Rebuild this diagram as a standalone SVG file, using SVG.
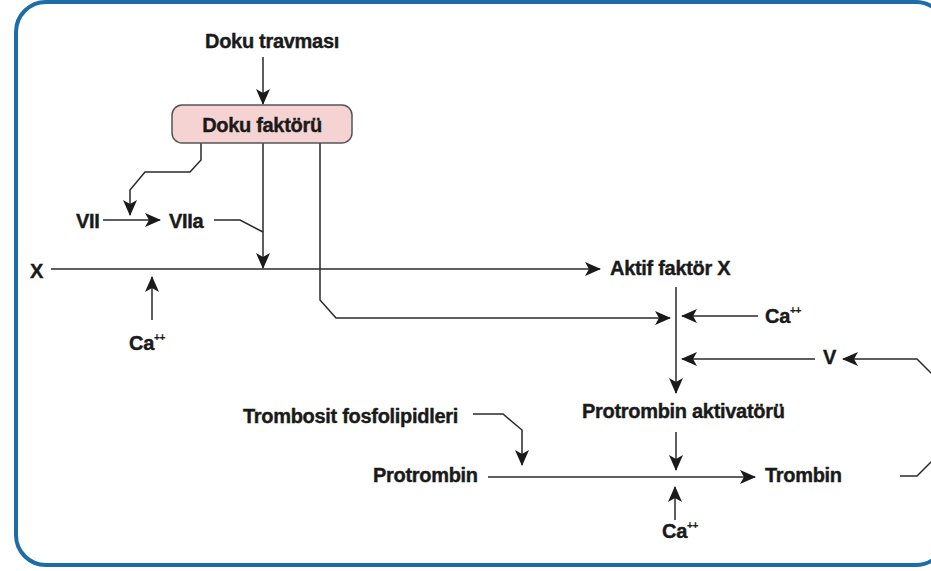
<svg xmlns="http://www.w3.org/2000/svg" width="931" height="571" viewBox="0 0 931 571">
<style>
.t{font-family:"Liberation Sans",Arial,sans-serif;font-weight:bold;font-size:20px;fill:#1a1a1a;stroke:#1a1a1a;stroke-width:0.4;letter-spacing:-0.3px}
.sup{font-size:10px;stroke-width:0.2}
.c{fill:none;stroke:#2a2a2a;stroke-width:1.5}
.a{marker-end:url(#ah)}
</style>
<defs>
<marker id="ah" viewBox="0 0 16 14" refX="15" refY="7" markerWidth="16" markerHeight="14" markerUnits="userSpaceOnUse" orient="auto">
<path d="M0,0 L16,7 L0,14 L4,7 z" fill="#1a1a1a"/>
</marker>
</defs>
<rect width="931" height="571" fill="#ffffff"/>
<rect id="frame" x="16" y="2" width="930" height="563" rx="30" fill="none" stroke="#1c6ca8" stroke-width="4"/>
<g id="connectors">
<path class="c a" d="M263,57 V104"/>
<path class="c a" d="M201,143 V160 L190,172 H145 L130,190 V215"/>
<path class="c a" d="M103,220 H160"/>
<path class="c a" d="M263,143 V268"/>
<path class="c" d="M214,220 H240 L263,232"/>
<path class="c a" d="M51,269 H600"/>
<path class="c a" d="M320,143 V300 L336,318 H670"/>
<path class="c a" d="M676,287 V393"/>
<path class="c a" d="M758,316 H682"/>
<path class="c a" d="M815,359 H682"/>
<path class="c a" d="M900,476 H917 L936,457 V378 L917,359 H843"/>
<path class="c a" d="M676,432 V470"/>
<path class="c a" d="M488,477 H755"/>
<path class="c a" d="M473,414 H503 L522,430 V465"/>
<path class="c a" d="M675,520 V487"/>
<path class="c a" d="M152,320 V277"/>
</g>
<g id="doku-travmasi"><text class="t" x="272" y="48" text-anchor="middle" font-size="21">Doku travması</text></g>
<g id="doku-faktoru">
<rect x="172" y="105" width="180" height="38" rx="10" fill="#f6d3d3" stroke="#555" stroke-width="1.5"/>
<text class="t" x="262" y="132" text-anchor="middle">Doku faktörü</text>
</g>
<g id="vii"><text class="t" x="76" y="228">VII</text></g>
<g id="viia"><text class="t" x="169" y="228">VIIa</text></g>
<g id="x"><text class="t" x="30" y="278" font-size="24">X</text></g>
<g id="ca1"><text class="t" x="129" y="350">Ca<tspan class="sup" dy="-9">++</tspan></text></g>
<g id="aktif-faktor-x"><text class="t" x="610" y="275">Aktif faktör X</text></g>
<g id="ca2"><text class="t" x="765" y="323">Ca<tspan class="sup" dy="-9">++</tspan></text></g>
<g id="v"><text class="t" x="823" y="364">V</text></g>
<g id="protrombin-aktivatoru"><text class="t" x="582" y="418">Protrombin aktivatörü</text></g>
<g id="trombosit"><text class="t" x="243" y="423">Trombosit fosfolipidleri</text></g>
<g id="protrombin"><text class="t" x="373" y="482">Protrombin</text></g>
<g id="trombin"><text class="t" x="765" y="482">Trombin</text></g>
<g id="ca3"><text class="t" x="662" y="538">Ca<tspan class="sup" dy="-9">++</tspan></text></g>
</svg>
